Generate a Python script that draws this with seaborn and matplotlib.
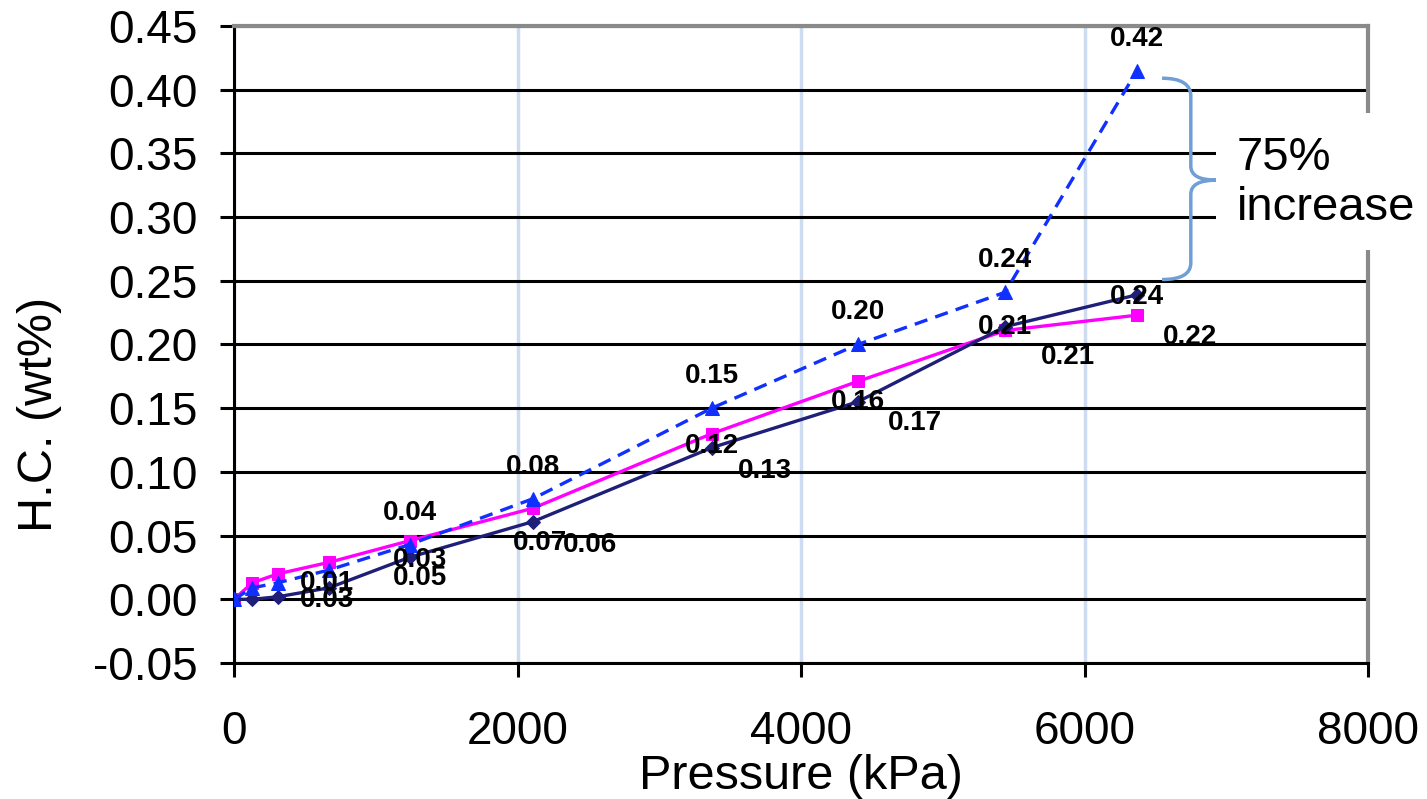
import numpy as np
import pandas as pd
import matplotlib
matplotlib.use("Agg")
import matplotlib.pyplot as plt
from matplotlib.path import Path
from matplotlib.patches import PathPatch, Rectangle
import seaborn as sns

# ---------------- data ----------------
pressure = [0, 130, 310, 670, 1240, 2110, 3370, 4400, 5440, 6370]
navy_hc = [0.000, 0.000, 0.002, 0.009, 0.033, 0.061, 0.119, 0.155, 0.214, 0.239]
magenta_hc = [0.000, 0.013, 0.020, 0.029, 0.046, 0.0715, 0.130, 0.171, 0.211, 0.223]
blue_hc = [0.000, 0.009, 0.013, 0.023, 0.043, 0.079, 0.150, 0.200, 0.241, 0.415]

navy_labels = ["", "", "", "0.01", "0.03", "0.07", "0.12", "0.16", "0.21", "0.24"]
magenta_labels = ["", "", "", "0.03", "0.05", "0.06", "0.13", "0.17", "0.21", "0.22"]
blue_labels = ["", "", "", "", "0.04", "0.08", "0.15", "0.20", "0.24", "0.42"]

x_ticks = [0, 2000, 4000, 6000, 8000]
y_ticks = [-0.05, 0.00, 0.05, 0.10, 0.15, 0.20, 0.25, 0.30, 0.35, 0.40, 0.45]
x_title = "Pressure (kPa)"
y_title = "H.C. (wt%)"
note_text = "75%\nincrease"

# label offsets (pixels; +dx right, +dy down in the image)
navy_off = [(0, 0)] * 3 + [(-2, -5), (10, 3), (7, 21), (0, -2), (0, 0), (0, 0), (0, 2)]
magenta_off = [(0, 0)] * 3 + [(-2, 38), (10, 37), (57, 37), (53, 37), (57, 42), (63, 27), (53, 22)]
blue_off = [(0, -32)] * 10

# ---------------- style ----------------
sns.set_style("white")
plt.rcParams["font.family"] = ["Liberation Sans", "DejaVu Sans"]
plt.rcParams["text.color"] = "black"
plt.rcParams["axes.labelcolor"] = "black"
plt.rcParams["xtick.color"] = "black"
plt.rcParams["ytick.color"] = "black"

W, H = 1427, 799
fig = plt.figure(figsize=(W / 100, H / 100), dpi=100)
ax = fig.add_axes([234 / W, 1 - 663 / H, (1368 - 234) / W, (663 - 26) / H])

NAVY = "#1f1f7a"
MAGENTA = "#ff00ff"
BLUE = "#1030ff"

df = pd.DataFrame({"pressure": pressure, "navy": navy_hc,
                   "magenta": magenta_hc, "blue": blue_hc})

sns.lineplot(data=df, x="pressure", y="magenta", ax=ax, color=MAGENTA, lw=2.4,
             marker="s", markersize=9, markeredgecolor=MAGENTA, sort=False,
             zorder=3)
sns.lineplot(data=df, x="pressure", y="navy", ax=ax, color=NAVY, lw=2.4,
             marker="D", markersize=7.5, markeredgecolor=NAVY, sort=False,
             zorder=4)
sns.lineplot(data=df, x="pressure", y="blue", ax=ax, color=BLUE, lw=2.4,
             marker="^", markersize=9.5, markeredgecolor=BLUE, sort=False,
             zorder=5)
ax.lines[-1].set_dashes([4, 2.5])

for vals, labs, offs in [(navy_hc, navy_labels, navy_off),
                         (magenta_hc, magenta_labels, magenta_off),
                         (blue_hc, blue_labels, blue_off)]:
    for xv, yv, lab, (dx, dy) in zip(pressure, vals, labs, offs):
        if lab:
            ax.annotate(lab, (xv, yv), xytext=(dx, -dy), textcoords="offset pixels",
                        ha="center", va="center", fontsize=20, fontweight="bold",
                        color="black", zorder=6)

# axes
ax.set_xlim(0, 8000)
ax.set_ylim(-0.05, 0.45)
ax.set_xticks(x_ticks)
ax.set_yticks(y_ticks)
ax.set_yticklabels([f"{v:.2f}" for v in y_ticks])
ax.set_axisbelow(True)
ax.grid(axis="y", color="black", lw=2.2)
ax.grid(axis="x", color="#cddcf0", lw=2.5)
ax.tick_params(axis="both", which="major", direction="out", length=10, width=2.2,
               color="black", labelcolor="black", labelsize=33)
ax.tick_params(axis="y", pad=16, left=True)
ax.tick_params(axis="x", pad=24, bottom=True)
for s in ["left", "bottom"]:
    ax.spines[s].set_color("black")
    ax.spines[s].set_linewidth(2.2)
for s in ["top", "right"]:
    ax.spines[s].set_color("#8a8a8a")
    ax.spines[s].set_linewidth(3)

ax.set_xlabel(x_title, fontsize=35, labelpad=0, color="black")
ax.set_ylabel(y_title, fontsize=35, color="black")
ax.yaxis.set_label_coords(-0.152, 0.39)

# curly brace
verts = [(6547, 0.409), (6750, 0.409), (6750, 0.395), (6750, 0.340),
         (6750, 0.329), (6928, 0.329), (6750, 0.329), (6750, 0.318),
         (6750, 0.264), (6750, 0.251), (6547, 0.251)]
codes = [Path.MOVETO, Path.CURVE3, Path.CURVE3, Path.LINETO,
         Path.CURVE3, Path.CURVE3, Path.CURVE3, Path.CURVE3,
         Path.LINETO, Path.CURVE3, Path.CURVE3]
ax.add_patch(PathPatch(Path(verts, codes), fill=False, edgecolor="#6f9fd4",
                       lw=2.5, zorder=5, clip_on=False))

# white note box
fig.add_artist(Rectangle((1216 / W, 1 - 250 / H), (W - 1216) / W, 137 / H,
                         transform=fig.transFigure, facecolor="white",
                         edgecolor="none", zorder=5))
fig.text(1237 / W, 1 - 183 / H, note_text, ha="left", va="center",
         fontsize=34, zorder=6, linespacing=1.15, color="black")

fig.savefig("out.png", dpi=100)
